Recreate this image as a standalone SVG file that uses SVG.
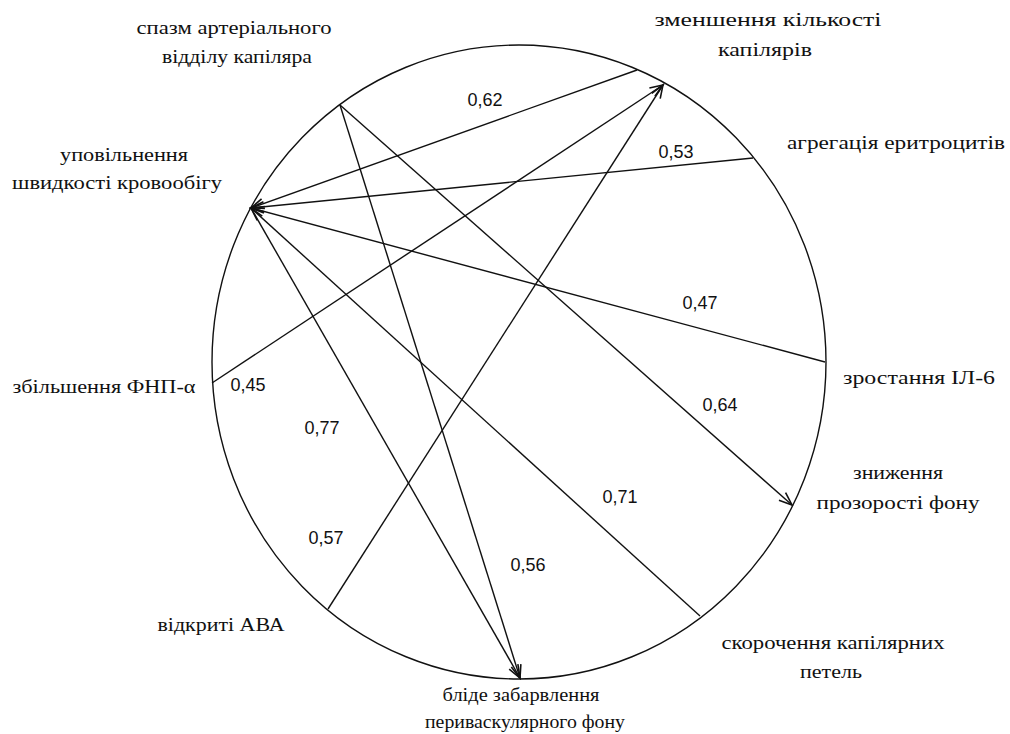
<svg xmlns="http://www.w3.org/2000/svg" width="1010" height="734" viewBox="0 0 1010 734">
<style>
.lbl{font-family:"Liberation Serif","DejaVu Serif",serif;font-size:19px;fill:#111;text-anchor:middle}
.num{font-family:"Liberation Sans","DejaVu Sans",sans-serif;font-size:18px;fill:#111;text-anchor:middle}
.ln{stroke:#111;stroke-width:1.4;fill:none}
.arr{marker-end:url(#ah)}
</style>
<defs>
<marker id="ah" viewBox="-14 -7 16 14" refX="0" refY="0" markerWidth="16" markerHeight="14" markerUnits="userSpaceOnUse" orient="auto">
<path d="M-13,-5 L0,0 L-13,5" fill="none" stroke="#111" stroke-width="1.6"/>
</marker>
</defs>
<rect width="1010" height="734" fill="#fff"/>
<ellipse cx="519" cy="362" rx="307" ry="317" class="ln"/>

<g id="connectors">
<line class="ln arr" x1="637" y1="70" x2="251" y2="208"/>
<line class="ln arr" x1="753" y1="158" x2="251" y2="208"/>
<line class="ln arr" x1="825" y1="362" x2="251" y2="208"/>
<line class="ln arr" x1="700" y1="616" x2="251" y2="208"/>
<line class="ln arr" x1="251" y1="208" x2="520" y2="678"/>
<line class="ln arr" x1="340" y1="105" x2="520" y2="678"/>
<line class="ln arr" x1="340" y1="105" x2="792" y2="505"/>
<line class="ln arr" x1="212" y1="383" x2="663" y2="85"/>
<line class="ln arr" x1="328" y1="609" x2="663" y2="85"/>
<text class="num" x="485" y="106">0,62</text>
<text class="num" x="676" y="158">0,53</text>
<text class="num" x="700" y="309">0,47</text>
<text class="num" x="720" y="411">0,64</text>
<text class="num" x="248" y="391">0,45</text>
<text class="num" x="322" y="434">0,77</text>
<text class="num" x="326" y="544">0,57</text>
<text class="num" x="620" y="503">0,71</text>
<text class="num" x="528" y="571">0,56</text>
</g>

<g id="n-spazm">
<text class="lbl" x="234" y="34" textLength="195" lengthAdjust="spacingAndGlyphs">спазм артеріального</text>
<text class="lbl" x="237" y="63" textLength="150" lengthAdjust="spacingAndGlyphs">відділу капіляра</text>
</g>
<g id="n-zmenshennia">
<text class="lbl" x="768" y="26" textLength="227" lengthAdjust="spacingAndGlyphs">зменшення кількості</text>
<text class="lbl" x="765" y="56" textLength="94" lengthAdjust="spacingAndGlyphs">капілярів</text>
</g>
<g id="n-ahrehatsiia">
<text class="lbl" x="896" y="149" textLength="218" lengthAdjust="spacingAndGlyphs">агрегація еритроцитів</text>
</g>
<g id="n-upovilnennia">
<text class="lbl" x="124" y="161" textLength="128" lengthAdjust="spacingAndGlyphs">уповільнення</text>
<text class="lbl" x="117" y="189" textLength="210" lengthAdjust="spacingAndGlyphs">швидкості кровообігу</text>
</g>
<g id="n-il6">
<text class="lbl" x="919" y="384" textLength="152" lengthAdjust="spacingAndGlyphs">зростання ІЛ-6</text>
</g>
<g id="n-fnp">
<text class="lbl" x="104" y="393" textLength="183" lengthAdjust="spacingAndGlyphs">збільшення ФНП-α</text>
</g>
<g id="n-znyzhennia">
<text class="lbl" x="898" y="479" textLength="90" lengthAdjust="spacingAndGlyphs">зниження</text>
<text class="lbl" x="898" y="509" textLength="163" lengthAdjust="spacingAndGlyphs">прозорості фону</text>
</g>
<g id="n-skorochennia">
<text class="lbl" x="833" y="649" textLength="223" lengthAdjust="spacingAndGlyphs">скорочення капілярних</text>
<text class="lbl" x="831" y="678" textLength="62" lengthAdjust="spacingAndGlyphs">петель</text>
</g>
<g id="n-ava">
<text class="lbl" x="221" y="631" textLength="127" lengthAdjust="spacingAndGlyphs">відкриті АВА</text>
</g>
<g id="n-blide">
<text class="lbl" x="521" y="701" textLength="157" lengthAdjust="spacingAndGlyphs">бліде забарвлення</text>
<text class="lbl" x="525" y="728" textLength="200" lengthAdjust="spacingAndGlyphs">периваскулярного фону</text>
</g>
</svg>
